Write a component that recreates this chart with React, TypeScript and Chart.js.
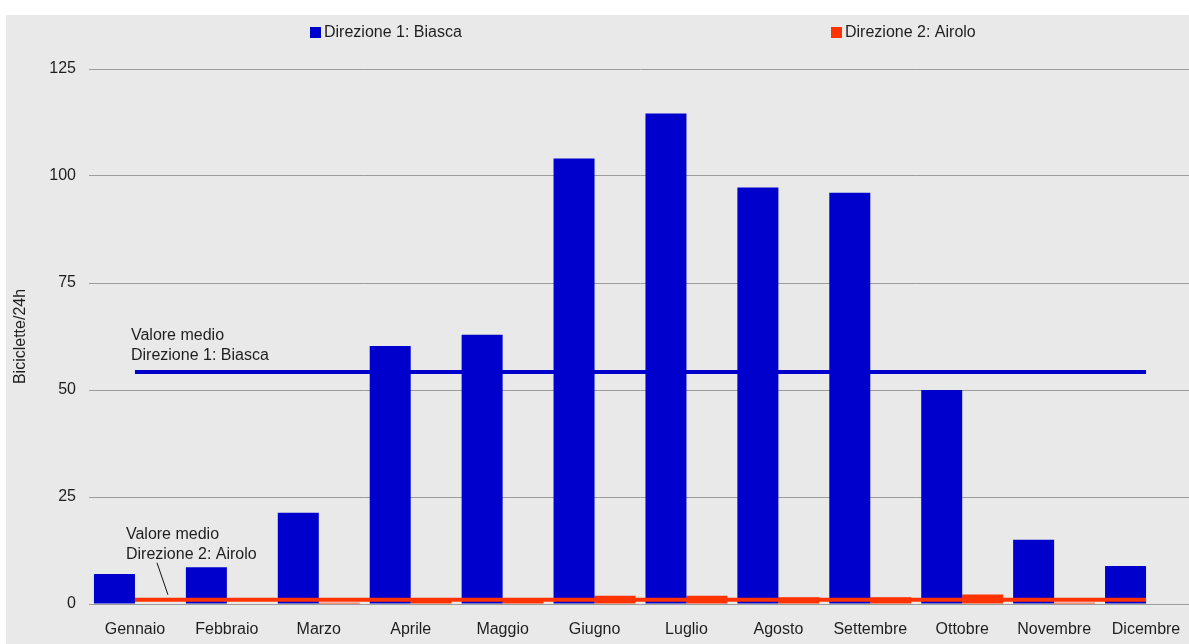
import React, { useEffect, useRef } from "react";
import { Chart, registerables } from "chart.js";

Chart.register(...registerables);

const months = [
  "Gennaio",
  "Febbraio",
  "Marzo",
  "Aprile",
  "Maggio",
  "Giugno",
  "Luglio",
  "Agosto",
  "Settembre",
  "Ottobre",
  "Novembre",
  "Dicembre",
];
const biasca = [7.0, 8.6, 21.3, 60.3, 62.9, 104.1, 114.6, 97.3, 96.1, 50.0, 15.0, 8.9];
const airolo = [0, 0, 0.3, 1.0, 1.2, 1.9, 1.9, 1.6, 1.6, 2.2, 0.3, 0.1];
const avgBiasca = 54.2;
const avgAirolo = 1.0;
const yTicks = [0, 25, 50, 75, 100, 125];
const legendLabels = ["Direzione 1: Biasca", "Direzione 2: Airolo"];
const noteBiasca = ["Valore medio", "Direzione 1: Biasca"];
const noteAirolo = ["Valore medio", "Direzione 2: Airolo"];
const yTitle = "Biciclette/24h";

const BLUE = "#0000cc";
const RED = "#ff3300";
const BG = "#e9e9e9";
const TEXT = "#1e1e1e";
const FONT = '"Liberation Sans", Arial, Helvetica, sans-serif';

const bgPlugin = {
  id: "bgFill",
  beforeDraw(chart: any) {
    const { ctx, width, height } = chart;
    ctx.save();
    ctx.fillStyle = BG;
    ctx.fillRect(0, 0, width, height);
    ctx.restore();
  },
};

const legendPlugin = {
  id: "customLegend",
  afterDraw(chart: any) {
    const { ctx } = chart;
    const items = [
      { x: 304, color: BLUE, text: legendLabels[0] },
      { x: 825, color: RED, text: legendLabels[1] },
    ];
    ctx.save();
    ctx.font = `16px ${FONT}`;
    ctx.textBaseline = "middle";
    ctx.textAlign = "left";
    items.forEach((it) => {
      ctx.fillStyle = it.color;
      ctx.fillRect(it.x, 12, 11, 11);
      ctx.fillStyle = TEXT;
      ctx.fillText(it.text, it.x + 14, 17.5);
    });
    ctx.restore();
  },
};

const notesPlugin = {
  id: "avgNotes",
  afterDatasetsDraw(chart: any) {
    const { ctx } = chart;
    const xs = chart.scales.x;
    const ys = chart.scales.y;
    const x0 = xs.getPixelForValue(0);
    const yb = ys.getPixelForValue(avgBiasca);
    const ya = ys.getPixelForValue(avgAirolo);
    ctx.save();
    ctx.font = `16px ${FONT}`;
    ctx.fillStyle = TEXT;
    ctx.textBaseline = "alphabetic";
    ctx.textAlign = "left";
    ctx.fillText(noteBiasca[0], x0 - 4, yb - 32);
    ctx.fillText(noteBiasca[1], x0 - 4, yb - 12);
    ctx.fillText(noteAirolo[0], x0 - 9, ya - 61);
    ctx.fillText(noteAirolo[1], x0 - 9, ya - 41);
    ctx.strokeStyle = "#111";
    ctx.lineWidth = 1;
    ctx.beginPath();
    ctx.moveTo(x0 + 22, ya - 37);
    ctx.lineTo(x0 + 33, ya - 5);
    ctx.stroke();
    ctx.restore();
  },
};

export default function App() {
  const ref = useRef<HTMLCanvasElement | null>(null);

  useEffect(() => {
    if (!ref.current) return;
    const chart = new Chart(ref.current, {
      type: "bar",
      data: {
        labels: months,
        datasets: [
          {
            type: "line",
            label: "Valore medio Direzione 1: Biasca",
            data: months.map(() => avgBiasca),
            borderColor: BLUE,
            borderWidth: 4,
            borderCapStyle: "butt",
            pointRadius: 0,
            fill: false,
            order: 0,
          } as any,
          {
            type: "line",
            label: "Valore medio Direzione 2: Airolo",
            data: months.map(() => avgAirolo),
            borderColor: RED,
            borderWidth: 4,
            borderCapStyle: "butt",
            pointRadius: 0,
            fill: false,
            order: 0,
          } as any,
          {
            type: "bar",
            label: legendLabels[0],
            data: biasca,
            backgroundColor: BLUE,
            borderWidth: 0,
            categoryPercentage: 0.892,
            barPercentage: 1.0,
            order: 1,
          },
          {
            type: "bar",
            label: legendLabels[1],
            data: airolo,
            backgroundColor: RED,
            borderWidth: 0,
            categoryPercentage: 0.892,
            barPercentage: 1.0,
            order: 1,
          },
        ],
      },
      options: {
        responsive: false,
        animation: false,
        devicePixelRatio: 1,
        layout: { padding: { top: 54, right: 4, bottom: 0, left: 0 } },
        plugins: {
          legend: { display: false },
          tooltip: { enabled: false },
          title: { display: false },
        },
        font: { family: FONT, size: 16 },
        scales: {
          x: {
            grid: { display: false },
            border: { display: false },
            ticks: {
              color: TEXT,
              font: { family: FONT, size: 16 },
              padding: 8,
              maxRotation: 0,
              autoSkip: false,
            },
            afterFit(scale: any) {
              scale.height = 40;
            },
          },
          y: {
            min: 0,
            max: 125,
            grid: { color: "#9c9c9c", lineWidth: 1, drawTicks: false },
            border: { display: false },
            ticks: {
              color: TEXT,
              font: { family: FONT, size: 16 },
              padding: 13,
            },
            afterBuildTicks(scale: any) {
              scale.ticks = yTicks.map((v) => ({ value: v }));
            },
            title: {
              display: true,
              text: yTitle,
              color: TEXT,
              font: { family: FONT, size: 16 },
              padding: { top: 5, bottom: 0 },
            },
            afterFit(scale: any) {
              scale.width = 83;
            },
          },
        },
      } as any,
      plugins: [bgPlugin, legendPlugin, notesPlugin],
    });
    return () => chart.destroy();
  }, []);

  return (
    <div
      style={{
        position: "fixed",
        left: 0,
        top: 0,
        width: 1189,
        height: 644,
        background: "#ffffff",
        overflow: "hidden",
      }}
    >
      <canvas
        ref={ref}
        width={1190}
        height={629}
        style={{ position: "absolute", left: 6, top: 15, width: 1190, height: 629, display: "block" }}
      />
    </div>
  );
}
